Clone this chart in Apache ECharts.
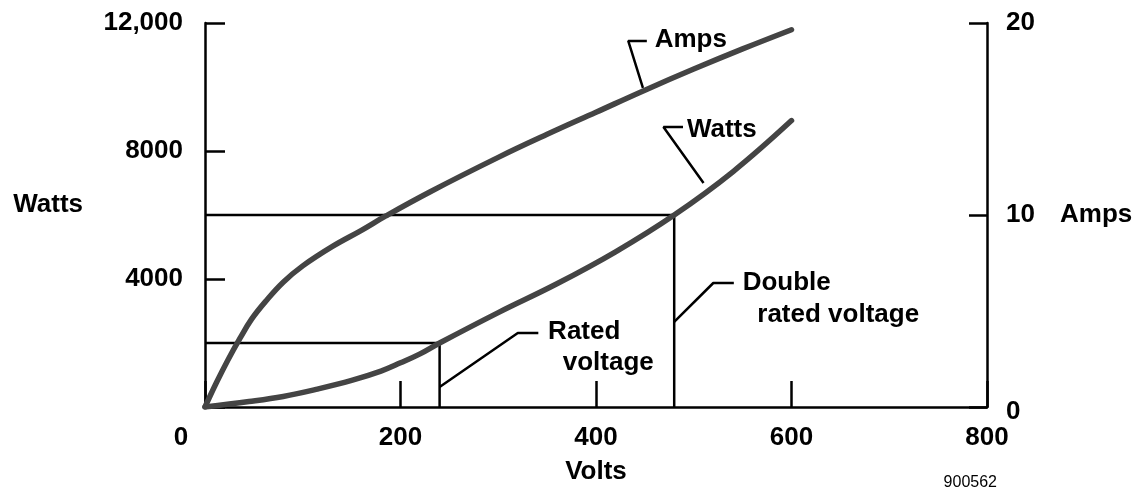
<!DOCTYPE html>
<html>
<head>
<meta charset="utf-8">
<script src="https://cdn.jsdelivr.net/npm/echarts@6/dist/echarts.min.js"></script>
<style>
  html, body { margin: 0; padding: 0; background: #fff; }
  #chart { width: 1144px; height: 493px; }
</style>
</head>
<body>
<div id="chart"></div>
<script>
// ---- data (volts on x; watts on left axis; amps on right axis) ----
const voltTicks = [0, 200, 400, 600, 800];
const voltTickLabels = ['0', '200', '400', '600', '800'];
const wattTicks = [0, 4000, 8000, 12000];
const wattTickLabels = ['', '4000', '8000', '12,000'];
const ampTicks = [0, 10, 20];
const ampTickLabels = ['0', '10', '20'];

const ampsVolts  = [0, 12, 24, 36, 48, 62, 80, 100, 130, 160, 185, 230, 300, 350, 400, 450, 500, 550, 600];
const ampsValues = [0, 1.3, 2.5, 3.6, 4.6, 5.5, 6.5, 7.35, 8.35, 9.2, 9.95, 11.2, 13.0, 14.2, 15.35, 16.5, 17.6, 18.65, 19.65];

const wattsVolts  = [0, 45, 80, 115, 150, 180, 200, 220, 240, 300, 360, 420, 480, 540, 600];
const wattsValues = [0, 170, 330, 560, 830, 1120, 1380, 1660, 2000, 2950, 3850, 4850, 6000, 7350, 8950];

// reference points: rated voltage and double rated voltage
const ratedVolts = 240, ratedWatts = 2000;
const doubleVolts = 480, doubleWatts = 6000;

// annotation leader lines (volts, watts) and label anchors
const ampsLeader   = [[448, 9970], [433, 11440], [452, 11440]];
const wattsLeader  = [[510, 7000], [469, 8750], [489, 8750]];
const ratedLeader  = [[240, 625], [320, 2310], [341, 2310]];
const doubleLeader = [[480, 2660], [520, 3875], [541, 3875]];
const annotationTexts  = ['Amps', 'Watts', 'Rated', 'voltage', 'Double', 'rated voltage'];
const annotationAnchor = [[460, 11470], [493, 8660], [351, 2344], [366, 1375], [550, 3875], [565, 2875]];

const figureId = '900562';

// ---- chart ----
const FONT = '"Liberation Sans", Arial, Helvetica, sans-serif';
const BLACK = '#000';
const CURVE = '#444';
const labelStyle = { color: BLACK, fontFamily: FONT, fontWeight: 'bold', fontSize: 26 };

function lookup(ticks, labels) {
  return v => { const i = ticks.indexOf(v); return i >= 0 ? labels[i] : ''; };
}
const voltLabel = lookup(voltTicks, voltTickLabels);
const wattLabel = lookup(wattTicks, wattTickLabels);
const ampLabel = lookup(ampTicks, ampTickLabels);

const chart = echarts.init(document.getElementById('chart'), null, { renderer: 'canvas' });

const leaderSeries = [ampsLeader, wattsLeader, ratedLeader, doubleLeader].map(pts => ({
  type: 'line', xAxisIndex: 0, yAxisIndex: 0, data: pts,
  symbol: 'none', silent: true, z: 3,
  lineStyle: { color: BLACK, width: 2.5 }
}));

chart.setOption({
  animation: false,
  backgroundColor: '#fff',
  grid: { left: 205, right: 157, top: 23, bottom: 86, containLabel: false },
  xAxis: {
    type: 'value', min: 0, max: 800, interval: 200,
    name: 'Volts', nameLocation: 'middle', nameGap: 52,
    nameTextStyle: labelStyle,
    axisLine: { show: true, onZero: false, lineStyle: { color: BLACK, width: 2.5 } },
    axisTick: { show: true, inside: true, length: 26, lineStyle: { color: BLACK, width: 2.5 } },
    axisLabel: Object.assign({}, labelStyle, {
      margin: 18,
      formatter: v => v === 0 ? '{z|' + voltLabel(v) + '}' : voltLabel(v),
      rich: { z: Object.assign({}, labelStyle, { padding: [0, 48, 0, 0] }) }
    }),
    splitLine: { show: false }
  },
  yAxis: [
    {
      type: 'value', position: 'left', min: 0, max: 12000, interval: 4000,
      name: 'Watts', nameLocation: 'middle', nameGap: 122, nameRotate: 0,
      nameTextStyle: Object.assign({}, labelStyle, { verticalAlign: 'bottom', padding: [0, 0, -3, 0] }),
      axisLine: { show: true, onZero: false, lineStyle: { color: BLACK, width: 2.5 } },
      axisTick: { show: true, inside: true, length: 20, lineStyle: { color: BLACK, width: 2.5 } },
      axisLabel: Object.assign({}, labelStyle, { margin: 22, formatter: wattLabel }),
      splitLine: { show: false }
    },
    {
      type: 'value', position: 'right', min: 0, max: 20, interval: 10,
      name: 'Amps', nameLocation: 'middle', nameGap: 73, nameRotate: 0,
      nameTextStyle: labelStyle,
      axisLine: { show: true, onZero: false, lineStyle: { color: BLACK, width: 2.5 } },
      axisTick: { show: true, inside: true, length: 18, lineStyle: { color: BLACK, width: 2.5 } },
      axisLabel: Object.assign({}, labelStyle, {
        margin: 19,
        formatter: v => v === 0 ? '{z|' + ampLabel(v) + '}' : ampLabel(v),
        rich: { z: Object.assign({}, labelStyle, { padding: [10, 0, 0, 0] }) }
      }),
      splitLine: { show: false }
    }
  ],
  series: [
    {
      type: 'line', xAxisIndex: 0, yAxisIndex: 0, symbol: 'none', silent: true, z: 2,
      data: [[0, ratedWatts], [ratedVolts, ratedWatts], [ratedVolts, 0]],
      lineStyle: { color: BLACK, width: 2.5 }
    },
    {
      type: 'line', xAxisIndex: 0, yAxisIndex: 0, symbol: 'none', silent: true, z: 2,
      data: [[0, doubleWatts], [doubleVolts, doubleWatts], [doubleVolts, 0]],
      lineStyle: { color: BLACK, width: 2.5 }
    },
    ...leaderSeries,
    {
      name: 'Watts', type: 'line', xAxisIndex: 0, yAxisIndex: 0, symbol: 'none', silent: true, z: 5,
      smooth: 0.4,
      data: wattsVolts.map((v, i) => [v, wattsValues[i]]),
      lineStyle: { color: CURVE, width: 5.5, cap: 'round' }
    },
    {
      name: 'Amps', type: 'line', xAxisIndex: 0, yAxisIndex: 1, symbol: 'none', silent: true, z: 5,
      smooth: 0.4,
      data: ampsVolts.map((v, i) => [v, ampsValues[i]]),
      lineStyle: { color: CURVE, width: 5.5, cap: 'round' }
    },
    {
      type: 'scatter', xAxisIndex: 0, yAxisIndex: 0, symbolSize: 0, silent: true, z: 6,
      itemStyle: { color: BLACK, opacity: 1 },
      data: annotationAnchor.map((p, i) => ({ value: p, name: annotationTexts[i] })),
      label: Object.assign({}, labelStyle, {
        show: true, position: 'right', distance: 0, color: BLACK, opacity: 1,
        formatter: p => p.name
      })
    }
  ],
  graphic: [
    {
      type: 'text', right: 147, bottom: 2,
      style: { text: figureId, fill: BLACK, font: '16px ' + FONT }
    }
  ]
});
</script>
</body>
</html>
